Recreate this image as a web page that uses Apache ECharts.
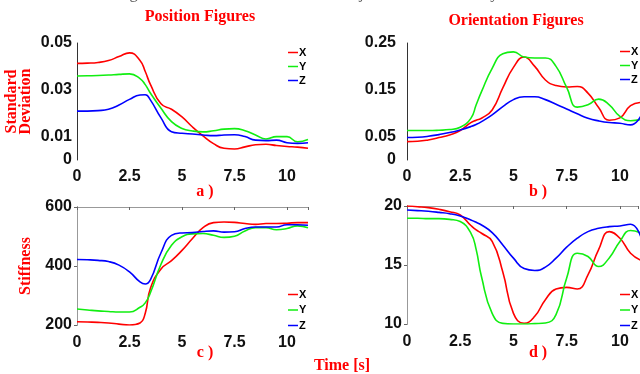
<!DOCTYPE html>
<html>
<head>
<meta charset="utf-8">
<script src="https://cdn.jsdelivr.net/npm/echarts@6/dist/echarts.min.js"></script>
<style>
    html, body { margin: 0; padding: 0; background: #fff; }
    #chart { width: 640px; height: 374px; }
</style>
</head>
<body>
<div id="chart"></div>
<script>
// time axis [s]
var times = [0, 0.5, 1, 1.5, 2, 2.5, 3, 3.25, 3.5, 4, 4.5, 5, 5.5, 6, 6.5, 7, 7.5, 8, 8.5, 9, 9.5, 10, 10.5, 11];

// a) position standard deviation
var posSdX = [0.0413, 0.0414, 0.0417, 0.0425, 0.0442, 0.0458, 0.0425, 0.0378, 0.0322, 0.0240, 0.0217, 0.0184, 0.0141, 0.0103, 0.0070, 0.0050, 0.0047, 0.0056, 0.0065, 0.0067, 0.0062, 0.0058, 0.0055, 0.0050];
var posSdY = [0.0359, 0.0360, 0.0361, 0.0363, 0.0366, 0.0368, 0.0348, 0.0322, 0.0285, 0.0221, 0.0164, 0.0135, 0.0124, 0.0120, 0.0125, 0.0132, 0.0134, 0.0125, 0.0107, 0.0090, 0.0100, 0.0100, 0.0078, 0.0088];
var posSdZ = [0.0209, 0.0209, 0.0211, 0.0217, 0.0235, 0.0259, 0.0278, 0.0279, 0.0256, 0.0180, 0.0121, 0.0114, 0.0111, 0.0107, 0.0104, 0.0107, 0.0108, 0.0100, 0.0085, 0.0083, 0.0085, 0.0074, 0.0071, 0.0074];

// b) orientation standard deviation
var oriSdX = [0.0393, 0.0400, 0.0429, 0.0479, 0.0536, 0.0629, 0.0800, 0.0850, 0.0893, 0.107, 0.154, 0.198, 0.220, 0.200, 0.171, 0.159, 0.156, 0.157, 0.143, 0.112, 0.085, 0.090, 0.116, 0.123];
var oriSdY = [0.063, 0.063, 0.063, 0.0636, 0.065, 0.070, 0.089, 0.118, 0.146, 0.196, 0.227, 0.231, 0.220, 0.218, 0.218, 0.200, 0.155, 0.113, 0.118, 0.130, 0.118, 0.093, 0.084, 0.087];
var oriSdZ = [0.048, 0.0486, 0.0507, 0.0543, 0.0586, 0.0643, 0.0714, 0.076, 0.082, 0.0964, 0.114, 0.129, 0.135, 0.135, 0.129, 0.119, 0.109, 0.0986, 0.0893, 0.0836, 0.080, 0.0786, 0.075, 0.095];

// c) position stiffness
var posKX = [211, 210, 209, 207, 203, 200, 207, 240, 325, 390, 418, 453, 493, 530, 547, 549, 548, 544, 541, 544, 544, 545, 547, 547];
var posKY = [254, 251, 248, 246, 244, 244, 260, 275, 310, 406, 470, 499, 509, 510, 504, 497, 501, 519, 530, 530, 523, 527, 536, 530];
var posKZ = [422, 421, 419, 415, 403, 380, 346, 339, 354, 445, 504, 512, 513, 517, 519, 515, 516, 527, 532, 532, 532, 540, 540, 538];

// d) orientation stiffness
var oriKX = [20.0, 19.94, 19.86, 19.72, 19.52, 19.24, 18.35, 17.97, 17.69, 17.0, 14.4, 10.9, 10.06, 10.65, 12.06, 12.96, 13.1, 12.96, 14.17, 16.3, 17.83, 17.27, 16.0, 15.4];
var oriKY = [18.96, 18.96, 18.93, 18.93, 18.87, 18.68, 17.7, 16.3, 14.0, 10.9, 10.05, 10.0, 10.0, 10.03, 10.08, 10.8, 13.9, 16.0, 15.72, 14.87, 15.6, 17.0, 17.92, 17.7];
var oriKZ = [19.66, 19.61, 19.55, 19.46, 19.35, 19.15, 18.82, 18.62, 18.39, 17.75, 16.70, 15.58, 14.70, 14.54, 14.82, 15.58, 16.51, 17.27, 17.83, 18.11, 18.25, 18.31, 18.45, 17.3];

// tick labels
var xTicks = [0, 2.5, 5, 7.5, 10];
var posSdTicks = [0, 0.01, 0.03, 0.05];
var oriSdTicks = [0, 0.05, 0.15, 0.25];
var posKTicks = [200, 400, 600];
var oriKTicks = [10, 15, 20];

var colors = ['#ff0000', '#11ee11', '#0000ff'];
var names = ['X', 'Y', 'Z'];

(function () {
    let myEchart = echarts.init(document.getElementById('chart'));

    function pairs(vals) {
        return times.map(function (t, i) { return [t, vals[i]]; });
    }
    function pick(ticks) {
        return function (v) {
            for (var i = 0; i < ticks.length; i++) {
                if (Math.abs(ticks[i] - v) < 1e-6) return String(ticks[i]);
            }
            return '';
        };
    }
    var labelFont = { fontSize: 16, fontWeight: 'bold', fontFamily: 'Liberation Sans', color: '#111' };
    var redFont = { color: '#ff0000', fontFamily: 'Liberation Serif', fontWeight: 'bold', fontSize: 16 };

    // grid boxes: a, b, c, d
    var grids = [
        { left: 77, top: 43, width: 231, height: 117 },
        { left: 407, top: 43, width: 231, height: 117 },
        { left: 77, top: 207, width: 231, height: 118 },
        { left: 407, top: 206, width: 231, height: 118 }
    ];
    var xMax = [11, 10.85, 11, 10.85];
    var yCfg = [
        { min: 0, max: 0.05, interval: 0.01, ticks: posSdTicks, margin: 5, name: 'Standard\nDeviation' },
        { min: 0, max: 0.25, interval: 0.05, ticks: oriSdTicks, margin: 11, name: '' },
        { min: 200, max: 600, interval: 200, ticks: posKTicks, margin: 5, name: 'Stiffness' },
        { min: 10, max: 20, interval: 5, ticks: oriKTicks, margin: 5, name: '' }
    ];
    var sets = [[posSdX, posSdY, posSdZ], [oriSdX, oriSdY, oriSdZ], [posKX, posKY, posKZ], [oriKX, oriKY, oriKZ]];

    var xAxis = [], yAxis = [], series = [];
    for (var i = 0; i < 4; i++) {
        xAxis.push({
            gridIndex: i, type: 'value', min: 0, max: xMax[i], interval: 2.5,
            axisLine: { show: false }, axisTick: { show: false }, splitLine: { show: false },
            axisLabel: Object.assign({ margin: i < 2 ? 9 : 10, showMaxLabel: false, formatter: pick(xTicks) }, labelFont)
        });
        yAxis.push({
            gridIndex: i, type: 'value', min: yCfg[i].min, max: yCfg[i].max, interval: yCfg[i].interval,
            axisLine: { show: true, lineStyle: { color: '#333', width: 1 } },
            axisTick: { show: false }, splitLine: { show: false },
            axisLabel: Object.assign({ margin: yCfg[i].margin, formatter: pick(yCfg[i].ticks) }, labelFont),
            name: yCfg[i].name, nameLocation: 'middle', nameRotate: 90, nameGap: 44,
            nameTextStyle: Object.assign({ lineHeight: 14 }, redFont)
        });
        for (var k = 0; k < 3; k++) {
            series.push({
                name: names[k], type: 'line', xAxisIndex: i, yAxisIndex: i,
                data: pairs(sets[i][k]), smooth: true, symbol: 'none', showSymbol: false,
                lineStyle: { color: colors[k], width: 1.6 }, itemStyle: { color: colors[k] }
            });
        }
    }
    // box lines on c) and d)
    for (var j = 2; j < 4; j++) {
        xAxis.push({
            gridIndex: j, type: 'value', position: 'top', min: 0, max: xMax[j], interval: 2.5,
            axisLine: { show: true, lineStyle: { color: '#999' } },
            axisTick: { show: true, inside: true, length: 3, lineStyle: { color: '#666' } },
            axisLabel: { show: false }, splitLine: { show: false }
        });
        yAxis.push({
            gridIndex: j, type: 'value', position: 'right', min: yCfg[j].min, max: yCfg[j].max, interval: yCfg[j].interval,
            axisLine: { show: true, lineStyle: { color: '#999' } },
            axisTick: { show: true, inside: true, length: 3, lineStyle: { color: '#666' } },
            axisLabel: { show: false }, splitLine: { show: false }
        });
    }

    var legendPos = [[288, 47], [620, 46], [288, 289], [620, 289]];
    var legend = legendPos.map(function (p, idx) {
        return {
            data: names, orient: 'vertical', left: p[0], top: p[1], padding: 0,
            icon: 'rect', itemWidth: 10, itemHeight: 1.5, itemGap: idx < 2 ? 3 : 4.5, selectedMode: false,
            textStyle: { fontSize: 11, lineHeight: 8, fontWeight: 'bold', color: '#000', fontFamily: 'Liberation Sans', padding: [0, 0, 0, -4] }
        };
    });

    function txt(s, x, y, font, fill, va) {
        return {
            type: 'text', x: x, y: y,
            style: { text: s, font: font, fill: fill, textAlign: 'center', align: 'center', textVerticalAlign: va || 'middle', verticalAlign: va || 'middle' }
        };
    }
    var rf = 'bold 16px "Liberation Serif"';

    let option = {
        animation: false,
        grid: grids,
        xAxis: xAxis,
        yAxis: yAxis,
        legend: legend,
        series: series,
        graphic: [
            txt('Figure 1: Position and orientation trajectories executed by GMR-GMA', 350, 2, '16.5px "Liberation Serif"', '#555', 'bottom'),
            txt('Position Figures', 200, 17, rf, '#ff0000'),
            txt('Orientation Figures', 516, 21, rf, '#ff0000'),
            txt('a )', 205, 192, rf, '#ff0000'),
            txt('b )', 538, 192, rf, '#ff0000'),
            txt('c )', 205, 353, rf, '#ff0000'),
            txt('d )', 538, 353, rf, '#ff0000'),
            txt('Time [s]', 342, 366, rf, '#ff0000')
        ]
    };
    myEchart.setOption(option);
    window.addEventListener('resize', function () {
        myEchart.resize();
    })
})();
</script>
</body>
</html>
